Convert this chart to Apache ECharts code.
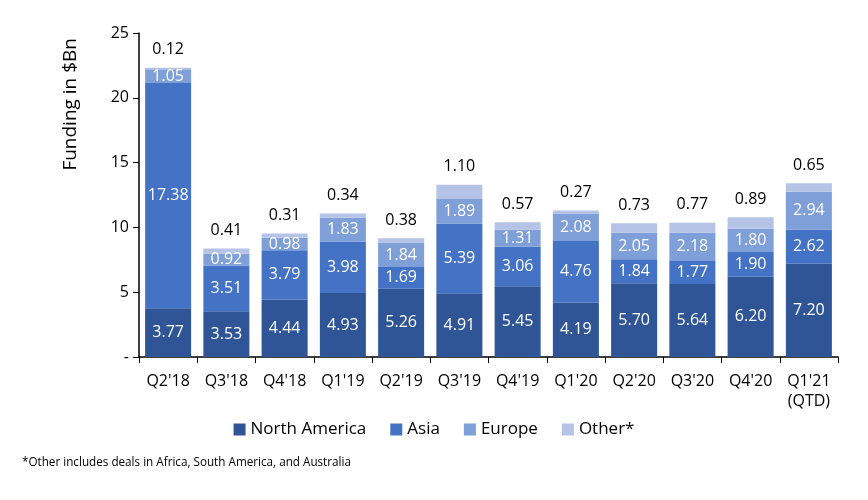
<!DOCTYPE html>
<html><head><meta charset="utf-8">
<script src="https://cdn.jsdelivr.net/npm/echarts@6/dist/echarts.min.js"></script>
<style>html,body{margin:0;padding:0;background:#fff}#c{width:868px;height:500px}</style>
</head><body><div id="c"></div>
<script>
const categories = ["Q2'18","Q3'18","Q4'18","Q1'19","Q2'19","Q3'19","Q4'19","Q1'20","Q2'20","Q3'20","Q4'20","Q1'21\n(QTD)"];
const northAmerica = [3.77,3.53,4.44,4.93,5.26,4.91,5.45,4.19,5.70,5.64,6.20,7.20];
const asia = [17.38,3.51,3.79,3.98,1.69,5.39,3.06,4.76,1.84,1.77,1.90,2.62];
const europe = [1.05,0.92,0.98,1.83,1.84,1.89,1.31,2.08,2.05,2.18,1.80,2.94];
const other = [0.12,0.41,0.31,0.34,0.38,1.10,0.57,0.27,0.73,0.77,0.89,0.65];
const yTicks = [0,5,10,15,20,25];

const FONT = "'Liberation Sans Narrow','Open Sans','Noto Sans',sans-serif";
const chart = echarts.init(document.getElementById('c'));
const inLabel = {show:true, position:'inside', color:'#fff', fontSize:16, fontFamily:FONT, formatter:p=>p.value.toFixed(2)};
function ser(name, data, color, label){
  return {name, type:'bar', stack:'t', data, barCategoryGap:'21%', itemStyle:{color}, label, emphasis:{disabled:true}};
}
chart.setOption({
  animation:false,
  textStyle:{fontFamily:FONT},
  grid:{left:139, right:30, top:33, bottom:143},
  legend:{left:'center', top:416, itemWidth:12, itemHeight:12, itemGap:24, icon:'rect',
    textStyle:{fontSize:17, color:'#000', fontFamily:FONT},
    data:['North America','Asia','Europe','Other*']},
  xAxis:{type:'category', data:categories,
    axisLine:{lineStyle:{color:'#000', width:1.5}},
    axisTick:{show:true, length:6, lineStyle:{color:'#000'}},
    axisLabel:{color:'#000', fontSize:16, fontFamily:FONT, margin:14, lineHeight:20}},
  yAxis:{type:'value', min:0, max:25, interval:5,
    axisLine:{show:true, lineStyle:{color:'#000', width:1.5}},
    axisTick:{show:true, length:6, lineStyle:{color:'#000'}},
    splitLine:{show:false},
    axisLabel:{color:'#000', fontSize:16, fontFamily:FONT, margin:10,
      formatter:v=> yTicks.includes(v) ? (v===0?'-':String(v)) : ''}},
  graphic:[
    {type:'text', left:61, top:38, rotation:Math.PI/2,
      style:{text:'Funding in $Bn', fontSize:19, fontFamily:FONT, fill:'#000'}},
    {type:'text', left:22, top:457,
      style:{text:'*Other includes deals in Africa, South America, and Australia', fontSize:11.7, fontFamily:FONT, fill:'#000'}}
  ],
  series:[
    ser('North America', northAmerica, '#2f5597', inLabel),
    ser('Asia', asia, '#4472c4', inLabel),
    ser('Europe', europe, '#7f9fd9', inLabel),
    ser('Other*', other, '#b4c3e6', {show:true, position:'top', distance:10, color:'#000', fontSize:16, fontFamily:FONT, formatter:p=>p.value.toFixed(2)})
  ]
});
</script></body></html>
